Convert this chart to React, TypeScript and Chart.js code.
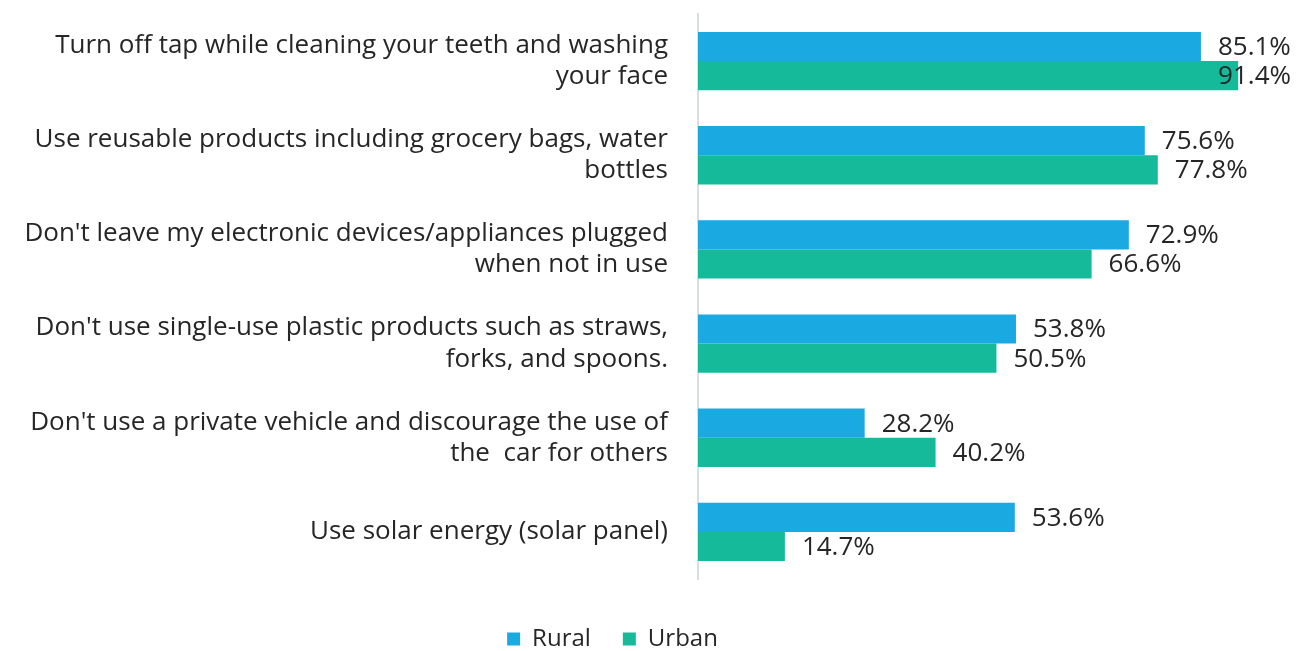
import React, { useEffect, useRef } from "react";
import { Chart, registerables } from "chart.js";

Chart.register(...registerables);

const categories: string[][] = [
  ["Turn off tap while cleaning your teeth and washing", "your face"],
  ["Use reusable products including grocery bags, water", "bottles"],
  ["Don't leave my electronic devices/appliances plugged", "when not in use"],
  ["Don't use single-use plastic products such as straws,", "forks, and spoons."],
  ["Don't use a private vehicle and discourage the use of", "the  car for others"],
  ["Use solar energy (solar panel)"],
];
const rural: number[] = [85.1, 75.6, 72.9, 53.8, 28.2, 53.6];
const urban: number[] = [91.4, 77.8, 66.6, 50.5, 40.2, 14.7];
const seriesNames: string[] = ["Rural", "Urban"];

const FONT = "'Open Sans', 'Noto Sans', sans-serif";

const labelPlugin = {
  id: "barLabels",
  afterDatasetsDraw(chart: any) {
    const ctx = chart.ctx;
    const area = chart.chartArea;
    ctx.save();
    ctx.font = `26px ${FONT}`;
    ctx.fillStyle = "#262626";
    ctx.textBaseline = "middle";
    ctx.textAlign = "left";
    chart.data.datasets.forEach((ds: any, i: number) => {
      const meta = chart.getDatasetMeta(i);
      meta.data.forEach((bar: any, j: number) => {
        const txt = ds.data[j].toFixed(1) + "%";
        const w = ctx.measureText(txt).width;
        let x = bar.x + 17;
        if (x + w > area.right + 2) x = area.right + 2 - w;
        ctx.fillText(txt, x, bar.y + 1);
      });
    });
    ctx.restore();
  },
};

const legendShift = {
  id: "legendShift",
  afterLayout(chart: any) {
    if (chart.legend) {
      chart.legend.left -= 32;
      chart.legend.right -= 32;
    }
  },
};

export default function App() {
  const ref = useRef<HTMLCanvasElement | null>(null);
  useEffect(() => {
    document.body.style.margin = "0";
    const chart = new Chart(ref.current as HTMLCanvasElement, {
      type: "bar",
      data: {
        labels: categories,
        datasets: [
          { label: seriesNames[0], data: rural, backgroundColor: "#1AA9E0", borderWidth: 0 },
          { label: seriesNames[1], data: urban, backgroundColor: "#15BA9B", borderWidth: 0 },
        ],
      },
      options: {
        indexAxis: "y",
        responsive: false,
        animation: false,
        maintainAspectRatio: false,
        layout: { padding: { top: 14, right: 8, left: 0, bottom: -10 } },
        datasets: { bar: { barPercentage: 1, categoryPercentage: 0.62 } },
        scales: {
          x: {
            min: 0,
            max: 100,
            display: true,
            position: "bottom",
            grid: { display: false, drawTicks: false },
            border: { display: false },
            ticks: { display: false },
            afterFit(scale: any) {
              scale.height = 16;
              scale.paddingLeft = 0;
              scale.paddingRight = 0;
            },
          },
          y: {
            grid: { display: false, drawTicks: false },
            border: { display: true, color: "#D9DEE6", width: 2 },
            ticks: {
              padding: 30,
              color: "#262626",
              font: { size: 26, family: FONT },
              autoSkip: false,
            },
            afterFit(scale: any) {
              scale.width = 698;
              scale.paddingTop = 0;
              scale.paddingBottom = 0;
            },
          },
        },
        plugins: {
          legend: {
            position: "bottom",
            labels: {
              boxWidth: 13,
              boxHeight: 13,
              padding: 32,
              color: "#262626",
              font: { size: 24, family: FONT },
            },
          },
          tooltip: { enabled: false },
        },
      },
      plugins: [labelPlugin, legendShift],
    });
    return () => chart.destroy();
  }, []);
  return (
    <div style={{ width: 1297, height: 651 }}>
      <canvas ref={ref} width={1297} height={651} style={{ display: "block" }} />
    </div>
  );
}
